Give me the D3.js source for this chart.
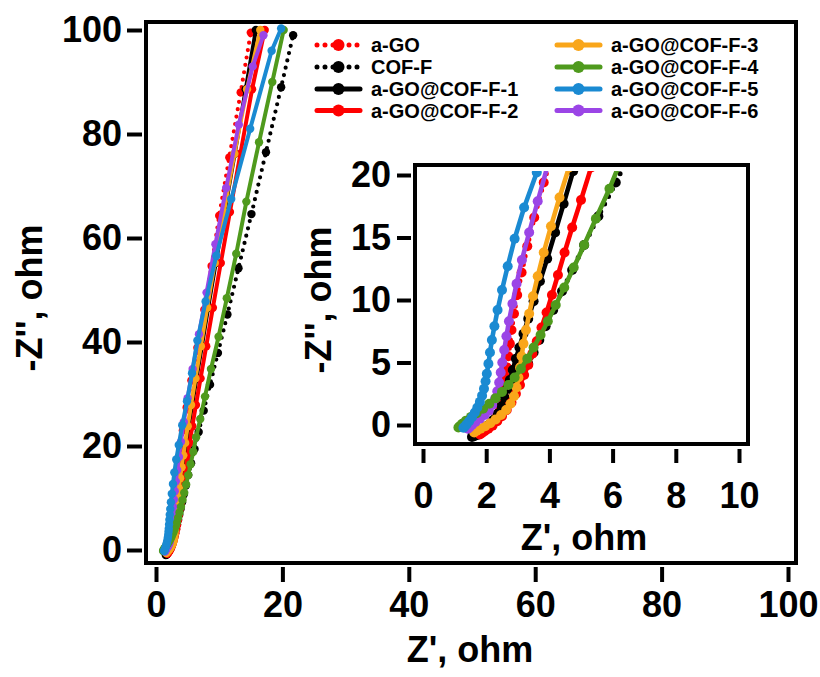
<!DOCTYPE html>
<html><head><meta charset="utf-8">
<script src="https://cdn.jsdelivr.net/npm/d3@7"></script>
<style>
body{margin:0;background:#fff;}
svg{display:block;font-family:"Liberation Sans",Arial,sans-serif;font-weight:bold;}
</style></head><body>
<svg id="chart" width="820" height="677"></svg>
<script>
// ---------- DATA ----------
const seriesNames = ["a-GO","COF-F","a-GO@COF-F-1","a-GO@COF-F-2","a-GO@COF-F-3","a-GO@COF-F-4","a-GO@COF-F-5","a-GO@COF-F-6"];
const seriesColors = ["#ff0000","#000000","#000000","#ff0000","#f9a61a","#4f9a1d","#1a8ad2","#9b45e6"];
const seriesDotted = [true,true,false,false,false,false,false,false];

const aGO = [[1.78,-0.55],[1.85,-0.45],[1.95,-0.3],[2.07,-0.1],[2.20,0.2],[2.32,0.6],[2.42,1.1],[2.50,1.7],[2.55,2.4],[2.59,3.1],[2.62,3.8],[2.66,4.6],[2.70,5.5],[2.75,6.5],[2.80,7.6],[2.88,8.9],[2.98,10.4],[3.12,12.2],[3.30,14.3],[3.52,16.6],[3.82,19.4],[4.25,23.0],[4.85,27.4],[5.60,32.6],[6.55,38.9],[7.65,46.2],[8.80,54.6],[10.0,64.3],[11.6,75.5],[13.4,88.0],[15.0,99.5]];
const cofF = [[1.55,-0.95],[1.62,-0.9],[1.72,-0.8],[1.85,-0.6],[2.00,-0.35],[2.15,-0.05],[2.30,0.3],[2.45,0.75],[2.60,1.3],[2.74,1.9],[2.88,2.6],[3.02,3.3],[3.17,4.1],[3.33,4.9],[3.50,5.8],[3.68,6.8],[3.88,7.9],[4.12,9.2],[4.40,10.7],[4.72,12.4],[5.10,14.4],[5.55,16.7],[6.10,19.4],[6.75,22.7],[7.55,26.8],[8.55,31.8],[9.80,37.9],[11.30,45.3],[13.05,54.2],[15.10,64.6],[17.40,76.5],[19.80,89.0],[21.70,99.0]];
const f1 = [[1.58,-0.85],[1.66,-0.75],[1.78,-0.55],[1.92,-0.3],[2.07,0.0],[2.22,0.4],[2.36,0.9],[2.48,1.5],[2.58,2.2],[2.67,2.9],[2.75,3.6],[2.84,4.4],[2.94,5.3],[3.05,6.2],[3.18,7.3],[3.33,8.5],[3.50,9.9],[3.70,11.5],[3.93,13.3],[4.18,15.4],[4.45,17.7],[4.75,20.3],[5.15,23.6],[5.70,27.8],[6.40,33.0],[7.25,39.2],[8.25,46.6],[9.45,55.2],[10.85,65.0],[12.45,76.2],[14.20,88.6],[15.80,100.0]];
const f2 = [[1.80,-0.75],[1.86,-0.65],[1.95,-0.5],[2.07,-0.3],[2.20,-0.05],[2.35,0.3],[2.50,0.7],[2.65,1.2],[2.80,1.8],[2.94,2.5],[3.07,3.2],[3.20,4.0],[3.33,4.8],[3.46,5.7],[3.60,6.7],[3.75,7.8],[3.91,9.0],[4.08,10.4],[4.27,12.0],[4.48,13.8],[4.72,15.8],[5.00,18.0],[5.32,20.6],[5.75,23.8],[6.32,27.9],[7.05,33.0],[7.95,39.2],[9.00,46.6],[10.25,55.2],[11.70,65.0],[13.35,76.2],[15.20,88.6],[17.20,100.0]];
const f3 = [[1.62,-0.6],[1.70,-0.45],[1.82,-0.3],[1.97,-0.1],[2.13,0.15],[2.30,0.45],[2.47,0.8],[2.63,1.2],[2.77,1.7],[2.88,2.3],[2.96,3.0],[3.02,3.8],[3.07,4.6],[3.12,5.5],[3.18,6.5],[3.26,7.6],[3.36,8.9],[3.48,10.3],[3.63,11.9],[3.82,13.8],[4.05,15.9],[4.32,18.2],[4.62,20.6],[5.02,23.8],[5.55,27.9],[6.25,33.0],[7.10,39.2],[8.10,46.6],[9.30,55.2],[10.75,65.0],[12.40,76.2],[14.40,88.6],[16.50,100.0]];
const f4 = [[1.12,-0.2],[1.16,-0.1],[1.24,0.1],[1.36,0.35],[1.52,0.65],[1.70,0.95],[1.90,1.3],[2.10,1.7],[2.30,2.15],[2.50,2.65],[2.70,3.2],[2.90,3.8],[3.10,4.5],[3.30,5.3],[3.50,6.2],[3.72,7.2],[3.95,8.3],[4.20,9.6],[4.47,11.0],[4.77,12.6],[5.10,14.4],[5.47,16.5],[5.90,18.9],[6.35,21.7],[7.00,25.2],[7.75,29.5],[8.70,34.8],[9.90,41.0],[11.20,48.4],[12.70,57.0],[14.30,67.0],[16.30,78.4],[18.40,90.0],[20.20,100.0]];
const f5 = [[1.28,-0.22],[1.32,-0.12],[1.38,0.05],[1.46,0.3],[1.55,0.62],[1.64,1.0],[1.72,1.4],[1.80,1.85],[1.87,2.35],[1.93,2.9],[1.98,3.5],[2.02,4.1],[2.07,4.9],[2.12,5.8],[2.18,6.8],[2.26,7.9],[2.36,9.2],[2.50,10.8],[2.68,12.7],[2.90,14.9],[3.20,17.4],[3.60,20.2],[4.15,24.0],[4.90,28.6],[5.70,34.0],[6.55,40.3],[7.85,47.8],[9.55,56.6],[11.90,67.5],[14.90,81.0],[18.30,96.0],[19.80,100.3]];
const f6 = [[1.42,-0.3],[1.47,-0.2],[1.55,0.0],[1.66,0.25],[1.80,0.5],[1.95,0.8],[2.08,1.15],[2.19,1.6],[2.28,2.1],[2.35,2.7],[2.41,3.4],[2.46,4.2],[2.51,5.0],[2.57,6.0],[2.64,7.1],[2.72,8.3],[2.83,9.7],[2.96,11.3],[3.13,13.2],[3.36,15.4],[3.63,17.9],[3.95,20.8],[4.40,24.6],[5.00,29.2],[5.80,34.8],[6.80,41.5],[8.00,49.5],[9.40,58.8],[11.10,69.6],[13.10,81.8],[15.30,93.0],[17.00,99.0]];
const seriesData = [aGO, cofF, f1, f2, f3, f4, f5, f6];

const xTicks = [0,20,40,60,80,100];
const yTicks = [0,20,40,60,80,100];
const insetXTicks = [0,2,4,6,8,10];
const insetYTicks = [0,5,10,15,20];

// draw order (last on top)
const drawOrder = [1,0,2,3,4,7,5,6];

// ---------- CHART ----------
const svg = d3.select("#chart");
const defs = svg.append("defs");

function panel(cfg){
  const x = d3.scaleLinear().domain(cfg.xDom).range(cfg.xRange);
  const y = d3.scaleLinear().domain(cfg.yDom).range(cfg.yRange);
  const g = svg.append("g");
  defs.append("clipPath").attr("id", cfg.id).append("rect")
    .attr("x", cfg.frame[0]).attr("y", cfg.clipTop)
    .attr("width", cfg.frame[2]-cfg.frame[0]).attr("height", cfg.frame[3]-cfg.clipTop);
  g.append("rect").attr("x", cfg.frame[0]).attr("y", cfg.frame[1])
    .attr("width", cfg.frame[2]-cfg.frame[0]).attr("height", cfg.frame[3]-cfg.frame[1])
    .attr("fill", "#fff").attr("stroke", "#000").attr("stroke-width", 4);
  const plot = g.append("g").attr("clip-path", `url(#${cfg.id})`);
  const line = d3.line().x(d => x(d[0])).y(d => y(d[1]));
  drawOrder.forEach(i => {
    const s = plot.append("g");
    s.append("path").datum(seriesData[i]).attr("d", line)
      .attr("fill", "none").attr("stroke", seriesColors[i])
      .attr("stroke-width", seriesDotted[i] ? cfg.dotW : cfg.lineW)
      .attr("stroke-linecap", "round").attr("stroke-linejoin", "round")
      .attr("stroke-dasharray", seriesDotted[i] ? "0," + cfg.dotGap : null);
    s.selectAll("circle").data(seriesData[i]).join("circle")
      .attr("cx", d => x(d[0])).attr("cy", d => y(d[1])).attr("r", cfg.r)
      .attr("fill", seriesColors[i]);
  });
  const ax = g.append("g").attr("transform", `translate(0,${cfg.xAxisY})`)
    .call(d3.axisBottom(x).tickValues(cfg.xTicks).tickSize(cfg.tickLen).tickPadding(cfg.xPad));
  const ay = g.append("g").attr("transform", `translate(${cfg.yAxisX},0)`)
    .call(d3.axisLeft(y).tickValues(cfg.yTicks).tickSize(cfg.tickLen).tickPadding(cfg.yPad));
  [ax, ay].forEach(a => {
    a.select(".domain").remove();
    a.selectAll(".tick line").attr("stroke", "#000").attr("stroke-width", 4);
    a.selectAll(".tick text").attr("fill", "#000")
      .style("font-family", '"Liberation Sans", Arial, sans-serif')
      .style("font-weight", "bold").style("font-size", cfg.fs + "px");
  });
  g.append("text").attr("x", cfg.xLab[0]).attr("y", cfg.xLab[1])
    .attr("text-anchor", "middle").style("font-size", cfg.fs + "px").text("Z', ohm");
  g.append("text").attr("transform", `translate(${cfg.yLab[0]},${cfg.yLab[1]}) rotate(-90)`)
    .attr("text-anchor", "middle").style("font-size", cfg.fs + "px").text("-Z'', ohm");
  return g;
}

// main panel
panel({id:"clipMain", xDom:[0,100], xRange:[156,788], yDom:[0,100], yRange:[550,30],
  frame:[146,22,796,563], clipTop:22, r:4.2, lineW:4, dotW:4.2, dotGap:7.5,
  xAxisY:567, yAxisX:142, tickLen:15, xPad:9, yPad:5,
  xTicks:xTicks, yTicks:yTicks, fs:36, xLab:[470,662], yLab:[42,298]});

// legend
const legRows = [45,67,89,110.5];
const legCols = [{x0:317, x1:360, tx:371},{x0:557, x1:600, tx:611}];
const leg = svg.append("g");
seriesNames.forEach((name, i) => {
  const c = legCols[Math.floor(i/4)], yy = legRows[i%4];
  leg.append("line").attr("x1", c.x0).attr("x2", c.x1).attr("y1", yy).attr("y2", yy)
    .attr("stroke", seriesColors[i]).attr("stroke-linecap", "round")
    .attr("stroke-width", 5)
    .attr("stroke-dasharray", seriesDotted[i] ? "0,8" : null);
  leg.append("circle").attr("cx", (c.x0+c.x1)/2).attr("cy", yy).attr("r", 6).attr("fill", seriesColors[i]);
  leg.append("text").attr("x", c.tx).attr("y", yy).attr("dy", "0.36em")
    .style("font-size", "20px").text(name);
});

// inset panel
panel({id:"clipInset", xDom:[0,10], xRange:[423,739], yDom:[0,20], yRange:[425,175],
  frame:[415,165,748,444], clipTop:171, r:5, lineW:4.6, dotW:5, dotGap:8.5,
  xAxisY:449, yAxisX:411, tickLen:14, xPad:19, yPad:6,
  xTicks:insetXTicks, yTicks:insetYTicks, fs:36, xLab:[584,550], yLab:[331,300]});
</script></body></html>
